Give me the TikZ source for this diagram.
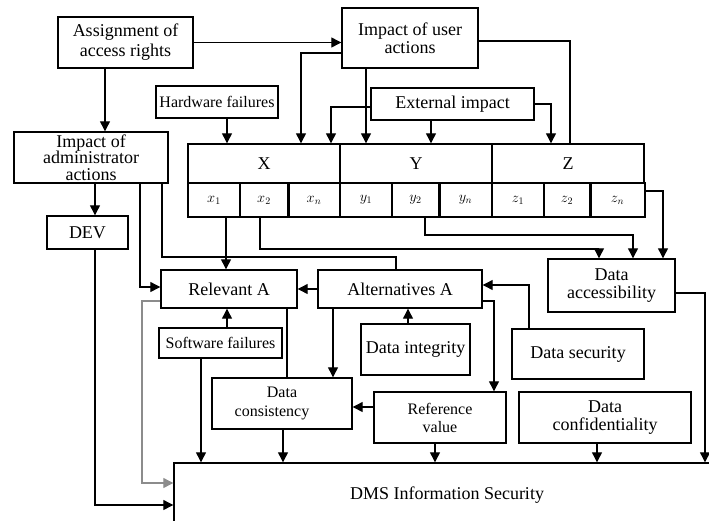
\documentclass[tikz,border=0pt]{standalone}
\usepackage{fontspec}
\setmainfont{Liberation Serif}
\usetikzlibrary{arrows.meta,calc}
\begin{document}
\begin{tikzpicture}[x=1pt,y=-1pt,
  wh/.style 2 args={minimum width=#1pt, minimum height=#2pt},
  box/.style={draw, line width=1.4pt, inner sep=0pt, align=center, font=\fontsize{18}{17}\selectfont},
  sbox/.style={box, font=\fontsize{16}{18}\selectfont},
  cell/.style={draw, line width=1.4pt, inner sep=0pt, minimum height=34pt, font=\fontsize{14}{16}\selectfont},
  conn/.style={line width=1.2pt},
  arr/.style={conn, -{Triangle[length=10pt,width=10pt]}},
  ]
\useasboundingbox (0,0) rectangle (709,520);
\clip (0,0) rectangle (709,520);

% boxes
\node[box, wh={135}{51}, font=\fontsize{18}{20}\selectfont] (assign) at (125.5,42.5) {Assignment of\\access rights};
\node[box, wh={136}{60}, font=\fontsize{18}{18}\selectfont] (user) at (410,38) {Impact of user\\actions};
\node[sbox, wh={122}{32}] (hw) at (217,102) {Hardware failures};
\node[box, wh={163}{32}] (ext) at (452.5,104) {External impact};
\node[box, wh={154}{51}, font=\fontsize{18}{16.5}\selectfont] (admin) at (91,157.5) {Impact of\\administrator\\actions};
\node[box, wh={152}{39}] (X) at (264,163.5) {X};
\node[box, wh={152}{39}] (Y) at (416,163.5) {Y};
\node[box, wh={152}{39}] (Z) at (568,163.5) {Z};
\node[cell, minimum width=52pt] (x1) at (214,200) {$x_1$};
\node[cell, minimum width=48pt] (x2) at (264,200) {$x_2$};
\node[cell, minimum width=52pt] (xn) at (314,200) {$x_n$};
\node[cell, minimum width=52pt] (y1) at (366,200) {$y_1$};
\node[cell, minimum width=47pt] (y2) at (415.5,200) {$y_2$};
\node[cell, minimum width=53pt] (yn) at (465.5,200) {$y_n$};
\node[cell, minimum width=52pt] (z1) at (518,200) {$z_1$};
\node[cell, minimum width=46pt] (z2) at (567,200) {$z_2$};
\node[cell, minimum width=55pt] (zn) at (617.5,200) {$z_n$};
\draw[line width=1pt] ($(xn.north west)+(2.5,0)$) -- ($(xn.south west)+(2.5,0)$);
\draw[line width=1pt] ($(yn.north west)+(2.5,0)$) -- ($(yn.south west)+(2.5,0)$);
\draw[line width=1pt] ($(zn.north west)+(2.5,0)$) -- ($(zn.south west)+(2.5,0)$);
\node[box, wh={81}{33}] (dev) at (87.5,232.5) {DEV};
\node[box, wh={127}{53}, font=\fontsize{18}{18}\selectfont] (acc) at (611.5,285.5) {Data\\accessibility};
\node[box, wh={136}{38}] (rel) at (229,289) {Relevant A};
\node[box, wh={164}{38}] (alt) at (400,289) {Alternatives A};
\node[sbox, wh={123}{30}] (sw) at (220.5,343) {Software failures};
\node[box, wh={109}{51}] (integ) at (415.5,349.5) {Data integrity};
\node[box, wh={132}{50}] (sec) at (578,354) {Data security};
\node[sbox, wh={140}{51}, font=\fontsize{16}{19}\selectfont] (cons) at (282,403.5) {Data\\consistency\hspace*{20pt}};
\node[sbox, wh={132}{51}, font=\fontsize{16}{18}\selectfont] (ref) at (440,417.5) {Reference\\value};
\node[box, wh={172}{51}, font=\fontsize{18}{18}\selectfont] (conf) at (605,417.5) {Data\\confidentiality};
\node[box, wh={546}{64}] (dms) at (447,495) {DMS Information Security};

% connectors
\draw[arr] (assign.east) -- (assign.east -| user.west);
\draw[arr] (user.west |- 0,53) -| (X.north -| 301,0);
\draw[arr] (hw.south -| 227,0) -- (X.north -| 227,0);
\draw[arr] (ext.west |- 0,107) -| (X.north -| 331,0);
\draw[arr] (ext.south -| 431,0) -- (Y.north -| 431,0);
\draw[arr] (ext.east) -| (Z.north -| 551,0);
\draw[arr] (user.south -| 366,0) -- (Y.north -| 366,0);
\draw[conn] (user.east |- 0,41) -| (Z.north -| 570,0);
\draw[arr] (assign.south -| 105,0) -- (admin.north -| 105,0);
\draw[arr] (admin.south -| 95,0) -- (dev.north -| 95,0);
\draw[arr] (admin.south -| 140,0) |- (rel.west |- 0,287);
\draw[conn] (admin.south -| 162,0) |- (396,257) -- (alt.north -| 396,0);
\draw[arr] (x1.south -| 226,0) -- (rel.north -| 226,0);
\draw[arr] (x2.south -| 260,0) |- (599,249) -- (acc.north -| 599,0);
\draw[arr] (y2.south -| 425,0) |- (633,235) -- (acc.north -| 633,0);
\draw[arr] (zn.east |- 0,191) -| (acc.north -| 663,0);
\draw[arr] (acc.east |- 0,293) -| (dms.north -| 705,0);
\draw[arr] (alt.west) -- (rel.east);
\draw[arr] (sw.north -| 227,0) -- (rel.south -| 227,0);
\draw[arr] (sw.south -| 201,0) -- (dms.north -| 201,0);
\draw[arr, black!45] (rel.west |- 0,301) -| (142,483) -- (dms.west |- 0,483);
\draw[arr] (dev.south -| 95,0) |- (dms.west |- 0,505);
\draw[conn] (rel.south -| 287,0) -- (cons.north -| 287,0);
\draw[arr] (alt.south -| 333,0) -- (cons.north -| 333,0);
\draw[arr] (integ.north -| 408,0) -- (alt.south -| 408,0);
\draw[arr] (alt.east |- 0,301) -| (ref.north -| 494,0);
\draw[arr] (sec.north -| 529,0) |- (alt.east |- 0,285);
\draw[arr] (ref.west |- 0,407) -- (cons.east |- 0,407);
\draw[arr] (cons.south -| 283,0) -- (dms.north -| 283,0);
\draw[arr] (ref.south -| 435,0) -- (dms.north -| 435,0);
\draw[arr] (conf.south -| 597,0) -- (dms.north -| 597,0);
\end{tikzpicture}
\end{document}
